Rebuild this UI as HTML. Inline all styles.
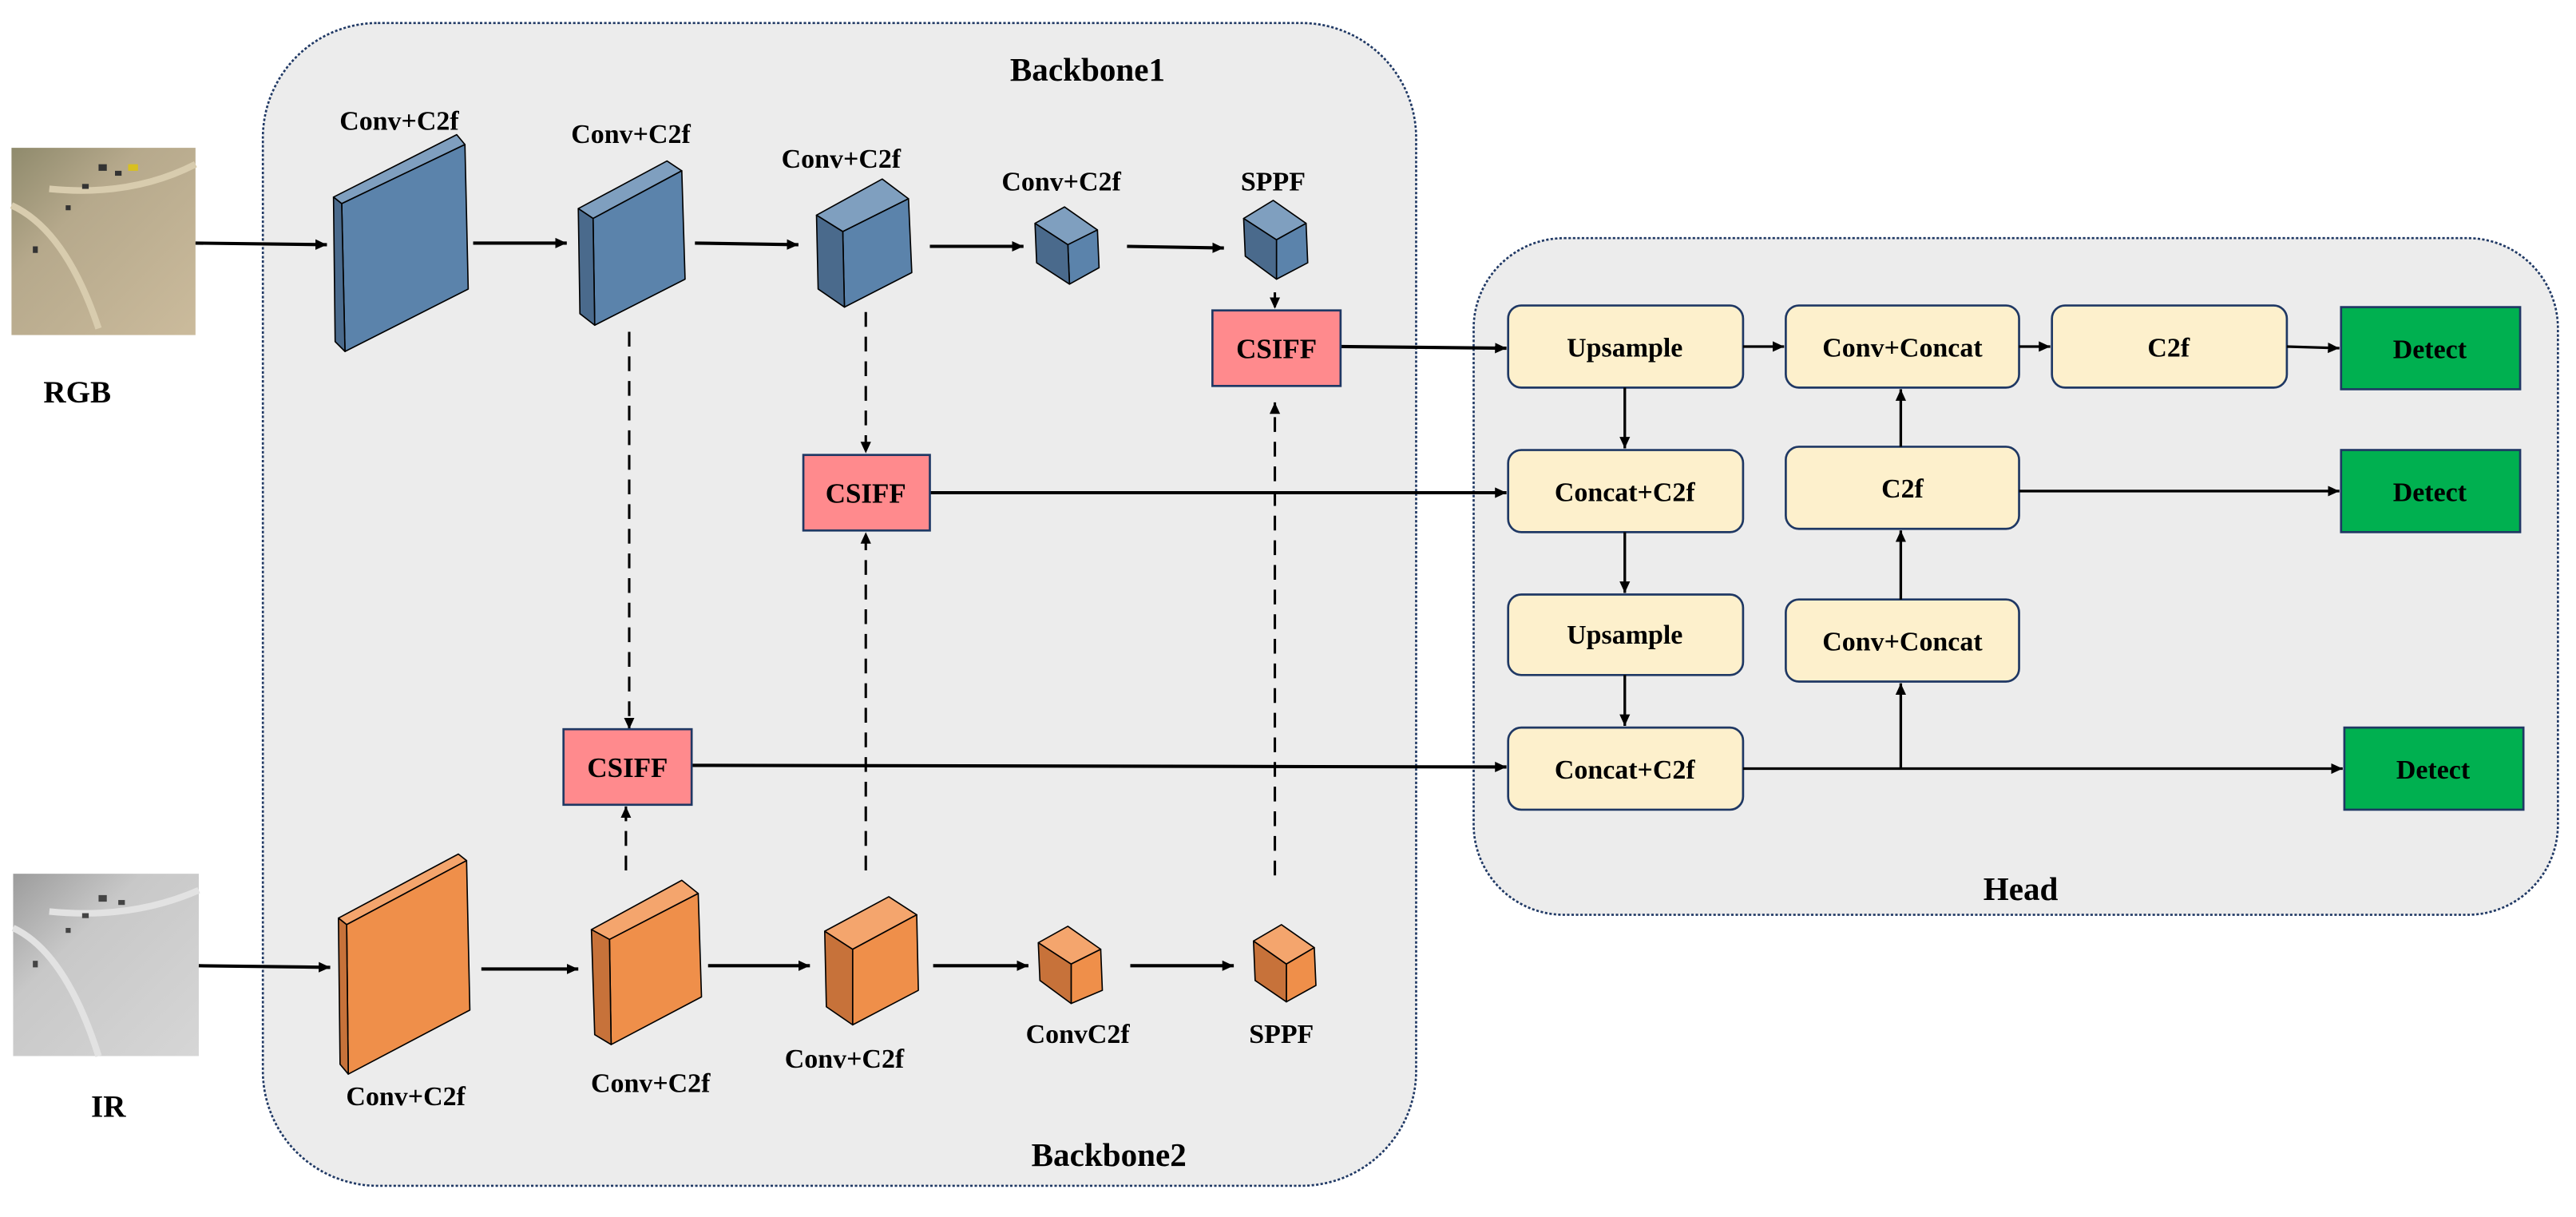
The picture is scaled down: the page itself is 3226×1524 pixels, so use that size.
<!DOCTYPE html>
<html><head><meta charset="utf-8"><style>
html,body{margin:0;padding:0;background:#fff;}
svg{display:block;}
text{font-family:"Liberation Serif",serif;font-weight:bold;fill:#000;}
</style></head><body>
<svg width="3226" height="1524" viewBox="0 0 1568 741" preserveAspectRatio="none" xmlns="http://www.w3.org/2000/svg">
<defs>
<marker id="a" markerWidth="8" markerHeight="8" refX="7" refY="4" orient="auto" markerUnits="userSpaceOnUse"><path d="M0,0.8 L7,4 L0,7.2 Z" fill="#000"/></marker>
<linearGradient id="rgb" x1="0" y1="0" x2="1" y2="1"><stop offset="0" stop-color="#8f8a6c"/><stop offset="0.35" stop-color="#b6a98c"/><stop offset="1" stop-color="#cbbb9c"/></linearGradient>
<linearGradient id="ir" x1="0" y1="0" x2="1" y2="1"><stop offset="0" stop-color="#9c9c9c"/><stop offset="0.35" stop-color="#c8c8c8"/><stop offset="1" stop-color="#d6d6d6"/></linearGradient>
</defs>
<!-- panels -->
<rect x="160" y="14" width="702" height="708" rx="70" fill="#ececec" stroke="#1f3864" stroke-width="1.3" stroke-dasharray="1.5,1.2"/>
<rect x="897" y="145" width="660" height="412" rx="55" fill="#ececec" stroke="#1f3864" stroke-width="1.3" stroke-dasharray="1.5,1.2"/>
<!-- images -->
<rect x="7" y="90" width="112" height="114" fill="url(#rgb)"/>
<path d="M7,125 Q40,140 60,200 M30,115 Q80,120 119,100" stroke="#d8ccae" stroke-width="4" fill="none"/>
<g fill="#333"><rect x="60" y="100" width="5" height="4"/><rect x="70" y="104" width="4" height="3"/><rect x="40" y="125" width="3" height="3"/><rect x="20" y="150" width="3" height="4"/><rect x="50" y="112" width="4" height="3"/></g>
<rect x="78" y="100" width="6" height="4" fill="#d8c020"/>
<rect x="8" y="532" width="113" height="111" fill="url(#ir)"/>
<path d="M8,565 Q40,580 60,643 M30,555 Q80,560 121,542" stroke="#e2e2e2" stroke-width="4" fill="none"/>
<g fill="#444"><rect x="60" y="545" width="5" height="4"/><rect x="72" y="548" width="4" height="3"/><rect x="40" y="565" width="3" height="3"/><rect x="20" y="585" width="3" height="4"/><rect x="50" y="556" width="4" height="3"/></g>
<text x="47" y="245" font-size="19" text-anchor="middle">RGB</text>
<text x="66" y="680" font-size="19" text-anchor="middle">IR</text>
<text x="662" y="49" font-size="20" text-anchor="middle">Backbone1</text>
<text x="675" y="710" font-size="20" text-anchor="middle">Backbone2</text>
<text x="1230" y="548" font-size="20" text-anchor="middle">Head</text>
<!-- blue blocks -->
<g stroke="#000" stroke-width="0.8" stroke-linejoin="round">
<polygon points="203,120 278,82 283,88 208,124" fill="#7f9fbf"/>
<polygon points="208,124 283,88 285,176 210,214" fill="#5b83ab"/>
<polygon points="203,120 208,124 210,214 204,208" fill="#4a6a8c"/>
<polygon points="352,127 406,98 415,104 361,133" fill="#7f9fbf"/>
<polygon points="361,133 415,104 417,170 362,198" fill="#5b83ab"/>
<polygon points="352,127 361,133 362,198 353,191" fill="#4a6a8c"/>
<polygon points="497,131 537,109 553,121 513,141" fill="#7f9fbf"/>
<polygon points="513,141 553,121 555,166 514,187" fill="#5b83ab"/>
<polygon points="497,131 513,141 514,187 498,176" fill="#4a6a8c"/>
<polygon points="630,136 648,126 668,140 650,149" fill="#7f9fbf"/>
<polygon points="650,149 668,140 669,163 651,173" fill="#5b83ab"/>
<polygon points="630,136 650,149 651,173 631,160" fill="#4a6a8c"/>
<polygon points="757,133 775,122 795,136 777,146" fill="#7f9fbf"/>
<polygon points="777,146 795,136 796,160 777,170" fill="#5b83ab"/>
<polygon points="757,133 777,146 777,170 758,156" fill="#4a6a8c"/>
<!-- orange -->
<polygon points="206,559 279,520 284,524 211,563" fill="#f4a56d"/>
<polygon points="211,563 284,524 286,615 212,654" fill="#ef8f4a"/>
<polygon points="206,559 211,563 212,654 207,648" fill="#c7723a"/>
<polygon points="360,566 415,536 425,544 371,572" fill="#f4a56d"/>
<polygon points="371,572 425,544 427,607 372,636" fill="#ef8f4a"/>
<polygon points="360,566 371,572 372,636 362,630" fill="#c7723a"/>
<polygon points="502,567 541,546 558,557 519,578" fill="#f4a56d"/>
<polygon points="519,578 558,557 559,603 519,624" fill="#ef8f4a"/>
<polygon points="502,567 519,578 519,624 503,613" fill="#c7723a"/>
<polygon points="632,574 650,564 670,578 652,587" fill="#f4a56d"/>
<polygon points="652,587 670,578 671,603 652,611" fill="#ef8f4a"/>
<polygon points="632,574 652,587 652,611 633,597" fill="#c7723a"/>
<polygon points="763,573 780,563 800,577 783,587" fill="#f4a56d"/>
<polygon points="783,587 800,577 801,600 783,610" fill="#ef8f4a"/>
<polygon points="763,573 783,587 783,610 764,597" fill="#c7723a"/>
</g>
<g font-size="16.5" text-anchor="middle">
<text x="243" y="79">Conv+C2f</text>
<text x="384" y="87">Conv+C2f</text>
<text x="512" y="102">Conv+C2f</text>
<text x="646" y="116">Conv+C2f</text>
<text x="775" y="116">SPPF</text>
<text x="247" y="673">Conv+C2f</text>
<text x="396" y="665">Conv+C2f</text>
<text x="514" y="650">Conv+C2f</text>
<text x="656" y="635">ConvC2f</text>
<text x="780" y="635">SPPF</text>
</g>
<!-- solid arrows -->
<g stroke="#000" stroke-width="2" fill="none" marker-end="url(#a)">
<line x1="119" y1="148" x2="199" y2="149"/>
<line x1="288" y1="148" x2="345" y2="148"/>
<line x1="423" y1="148" x2="486" y2="149"/>
<line x1="566" y1="150" x2="623" y2="150"/>
<line x1="686" y1="150" x2="745" y2="151"/>
<line x1="121" y1="588" x2="201" y2="589"/>
<line x1="293" y1="590" x2="352" y2="590"/>
<line x1="431" y1="588" x2="493" y2="588"/>
<line x1="568" y1="588" x2="626" y2="588"/>
<line x1="688" y1="588" x2="751" y2="588"/>
<line x1="816" y1="211" x2="917" y2="212"/>
<line x1="566" y1="300" x2="917" y2="300"/>
<line x1="420" y1="466" x2="917" y2="467"/>
</g>
<!-- dashed -->
<g stroke="#000" stroke-width="1.5" fill="none" stroke-dasharray="9,6" marker-end="url(#a)">
<line x1="383" y1="202" x2="383" y2="444"/>
<line x1="527" y1="190" x2="527" y2="276"/>
<line x1="381" y1="530" x2="381" y2="491"/>
<line x1="527" y1="530" x2="527" y2="324"/>
<line x1="776" y1="533" x2="776" y2="245"/>
<line x1="776" y1="178" x2="776" y2="188"/>
</g>
<!-- CSIFF -->
<g stroke="#1f3864" stroke-width="1.3" fill="#ff8a8d">
<rect x="738" y="189" width="78" height="46"/>
<rect x="489" y="277" width="77" height="46"/>
<rect x="343" y="444" width="78" height="46"/>
</g>
<g font-size="17" text-anchor="middle">
<text x="777" y="218">CSIFF</text>
<text x="527" y="306">CSIFF</text>
<text x="382" y="473">CSIFF</text>
</g>
<!-- head boxes -->
<g stroke="#1f3864" stroke-width="1.3" fill="#fdf0cc">
<rect x="918" y="186" width="143" height="50" rx="8"/>
<rect x="918" y="274" width="143" height="50" rx="8"/>
<rect x="918" y="362" width="143" height="49" rx="8"/>
<rect x="918" y="443" width="143" height="50" rx="8"/>
<rect x="1087" y="186" width="142" height="50" rx="8"/>
<rect x="1087" y="272" width="142" height="50" rx="8"/>
<rect x="1087" y="365" width="142" height="50" rx="8"/>
<rect x="1249" y="186" width="143" height="50" rx="8"/>
</g>
<g stroke="#1f3864" stroke-width="1.3" fill="#00b050">
<rect x="1425" y="187" width="109" height="50"/>
<rect x="1425" y="274" width="109" height="50"/>
<rect x="1427" y="443" width="109" height="50"/>
</g>
<g font-size="16.5" text-anchor="middle">
<text x="989" y="217">Upsample</text>
<text x="989" y="305">Concat+C2f</text>
<text x="989" y="392">Upsample</text>
<text x="989" y="474">Concat+C2f</text>
<text x="1158" y="217">Conv+Concat</text>
<text x="1158" y="303">C2f</text>
<text x="1158" y="396">Conv+Concat</text>
<text x="1320" y="217">C2f</text>
<text x="1479" y="218">Detect</text>
<text x="1479" y="305">Detect</text>
<text x="1481" y="474">Detect</text>
</g>
<g stroke="#000" stroke-width="1.6" fill="none" marker-end="url(#a)">
<line x1="1061" y1="211" x2="1086" y2="211"/>
<line x1="1229" y1="211" x2="1248" y2="211"/>
<line x1="1392" y1="211" x2="1424" y2="212"/>
<line x1="989" y1="236" x2="989" y2="273"/>
<line x1="989" y1="324" x2="989" y2="361"/>
<line x1="989" y1="411" x2="989" y2="442"/>
<line x1="1061" y1="468" x2="1426" y2="468"/>
<line x1="1157" y1="468" x2="1157" y2="416"/>
<line x1="1157" y1="365" x2="1157" y2="323"/>
<line x1="1157" y1="272" x2="1157" y2="237"/>
<line x1="1229" y1="299" x2="1424" y2="299"/>
</g>
</svg>
</body></html>
